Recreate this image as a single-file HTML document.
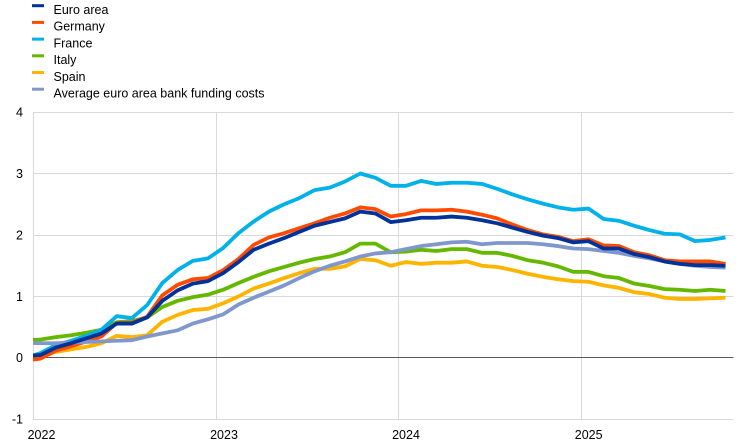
<!DOCTYPE html>
<html>
<head>
<meta charset="utf-8">
<style>
  html, body { margin: 0; padding: 0; background: #ffffff; }
  body { width: 744px; height: 445px; overflow: hidden; }
  svg { display: block; }
  text { font-family: "Liberation Sans", Arial, sans-serif; fill: #000; }
</style>
</head>
<body>
<svg width="744" height="445" viewBox="0 0 744 445" xmlns="http://www.w3.org/2000/svg">
  <defs>
    <clipPath id="plot"><rect x="33" y="100" width="700.5" height="330"/></clipPath>
  </defs>

  <!-- Legend -->
  <g>
    <rect x="32" y="4.2" width="12" height="3" fill="#003299"/>
    <text x="53.5" y="14" font-size="12.5">Euro area</text>
    <rect x="32" y="20.9" width="12" height="3" fill="#FF4B00"/>
    <text x="53.5" y="30.7" font-size="12.5">Germany</text>
    <rect x="32" y="37.6" width="12" height="3" fill="#00B1EA"/>
    <text x="53.5" y="47.4" font-size="12.5">France</text>
    <rect x="32" y="54.3" width="12" height="3" fill="#65B800"/>
    <text x="53.5" y="64.1" font-size="12.5">Italy</text>
    <rect x="32" y="71" width="12" height="3" fill="#FFB400"/>
    <text x="53.5" y="80.8" font-size="12.5">Spain</text>
    <rect x="32" y="87.7" width="12" height="3" fill="#7F97CC"/>
    <text x="53.5" y="97.5" font-size="12.5">Average euro area bank funding costs</text>
  </g>

  <!-- Gridlines -->
  <g stroke="#d9d9d9" stroke-width="1" fill="none">
    <line x1="33" y1="112.5" x2="733.5" y2="112.5"/>
    <line x1="33" y1="173.5" x2="733.5" y2="173.5"/>
    <line x1="33" y1="235.5" x2="733.5" y2="235.5"/>
    <line x1="33" y1="296.5" x2="733.5" y2="296.5"/>
    <line x1="33" y1="419.5" x2="733.5" y2="419.5"/>
    <line x1="33.5" y1="112" x2="33.5" y2="420"/>
    <line x1="216.5" y1="112" x2="216.5" y2="420"/>
    <line x1="398.5" y1="112" x2="398.5" y2="420"/>
    <line x1="581.5" y1="112" x2="581.5" y2="420"/>
  </g>
  <line x1="33" y1="357.5" x2="733.5" y2="357.5" stroke="#595959" stroke-width="1"/>

  <!-- Y labels -->
  <g font-size="12.5" text-anchor="end">
    <text x="23" y="116.6">4</text>
    <text x="23" y="177.8">3</text>
    <text x="23" y="239.4">2</text>
    <text x="23" y="300.8">1</text>
    <text x="23" y="362">0</text>
    <text x="23" y="423.6">-1</text>
  </g>

  <!-- X labels -->
  <g font-size="12.5" text-anchor="middle">
    <text x="41.5" y="439">2022</text>
    <text x="224" y="439">2023</text>
    <text x="406" y="439">2024</text>
    <text x="588.7" y="439">2025</text>
  </g>

  <!-- Series -->
  <g clip-path="url(#plot)">
    <g transform="matrix(15.22 0 0 -61.5 40.61 358)" fill="none" stroke-width="3.8" stroke-linejoin="round" stroke-linecap="butt">
      <!-- Spain -->
      <polyline vector-effect="non-scaling-stroke" stroke="#FFB400" points="-1,-0.01 0,0.02 1,0.10 2,0.14 3,0.18 4,0.24 5,0.36 6,0.34 7,0.37 8,0.59 9,0.70 10,0.78 11,0.80 12,0.89 13,1.00 14,1.13 15,1.21 16,1.30 17,1.38 18,1.45 19,1.45 20,1.49 21,1.61 22,1.59 23,1.50 24,1.56 25,1.53 26,1.55 27,1.55 28,1.57 29,1.50 30,1.48 31,1.43 32,1.37 33,1.32 34,1.28 35,1.25 36,1.24 37,1.18 38,1.14 39,1.07 40,1.04 41,0.98 42,0.96 43,0.96 44,0.97 45,0.98"/>
      <!-- Italy -->
      <polyline vector-effect="non-scaling-stroke" stroke="#65B800" points="-1,0.29 0,0.30 1,0.34 2,0.37 3,0.41 4,0.46 5,0.58 6,0.60 7,0.66 8,0.83 9,0.93 10,0.99 11,1.03 12,1.11 13,1.22 14,1.32 15,1.41 16,1.48 17,1.55 18,1.61 19,1.65 20,1.72 21,1.86 22,1.86 23,1.72 24,1.73 25,1.76 26,1.74 27,1.77 28,1.77 29,1.71 30,1.71 31,1.66 32,1.59 33,1.55 34,1.49 35,1.40 36,1.40 37,1.33 38,1.30 39,1.21 40,1.17 41,1.12 42,1.11 43,1.09 44,1.11 45,1.09"/>
      <!-- France -->
      <polyline vector-effect="non-scaling-stroke" stroke="#00B1EA" points="-1,0.00 0,0.08 1,0.21 2,0.28 3,0.36 4,0.46 5,0.68 6,0.65 7,0.86 8,1.22 9,1.43 10,1.58 11,1.62 12,1.79 13,2.03 14,2.22 15,2.38 16,2.50 17,2.60 18,2.73 19,2.77 20,2.87 21,3.00 22,2.93 23,2.80 24,2.80 25,2.88 26,2.83 27,2.85 28,2.85 29,2.83 30,2.75 31,2.66 32,2.58 33,2.51 34,2.45 35,2.41 36,2.43 37,2.26 38,2.23 39,2.15 40,2.08 41,2.02 42,2.01 43,1.90 44,1.92 45,1.96"/>
      <!-- Germany -->
      <polyline vector-effect="non-scaling-stroke" stroke="#FF4B00" points="-1,-0.04 0,-0.01 1,0.12 2,0.19 3,0.27 4,0.35 5,0.57 6,0.57 7,0.67 8,1.02 9,1.19 10,1.28 11,1.30 12,1.43 13,1.61 14,1.84 15,1.96 16,2.03 17,2.11 18,2.19 19,2.28 20,2.35 21,2.45 22,2.42 23,2.30 24,2.34 25,2.40 26,2.40 27,2.41 28,2.38 29,2.33 30,2.27 31,2.17 32,2.08 33,2.01 34,1.97 35,1.90 36,1.93 37,1.83 38,1.82 39,1.72 40,1.67 41,1.59 42,1.57 43,1.57 44,1.57 45,1.53"/>
      <!-- Average -->
      <polyline vector-effect="non-scaling-stroke" stroke="#7F97CC" points="-1,0.25 0,0.24 1,0.24 2,0.25 3,0.26 4,0.27 5,0.28 6,0.29 7,0.35 8,0.40 9,0.45 10,0.56 11,0.63 12,0.71 13,0.87 14,0.98 15,1.08 16,1.18 17,1.30 18,1.41 19,1.50 20,1.57 21,1.65 22,1.70 23,1.72 24,1.77 25,1.82 26,1.85 27,1.88 28,1.89 29,1.85 30,1.87 31,1.87 32,1.87 33,1.85 34,1.82 35,1.78 36,1.77 37,1.74 38,1.71 39,1.66 40,1.62 41,1.57 42,1.53 43,1.50 44,1.48 45,1.47"/>
      <!-- Euro area -->
      <polyline vector-effect="non-scaling-stroke" stroke="#003299" points="-1,0.03 0,0.05 1,0.17 2,0.24 3,0.32 4,0.40 5,0.56 6,0.56 7,0.66 8,0.93 9,1.10 10,1.21 11,1.25 12,1.38 13,1.56 14,1.76 15,1.86 16,1.95 17,2.05 18,2.15 19,2.21 20,2.27 21,2.38 22,2.35 23,2.21 24,2.24 25,2.28 26,2.28 27,2.30 28,2.28 29,2.24 30,2.19 31,2.12 32,2.05 33,1.99 34,1.95 35,1.88 36,1.90 37,1.78 38,1.78 39,1.69 40,1.64 41,1.57 42,1.53 43,1.51 44,1.51 45,1.50"/>
    </g>
  </g>
</svg>
</body>
</html>
